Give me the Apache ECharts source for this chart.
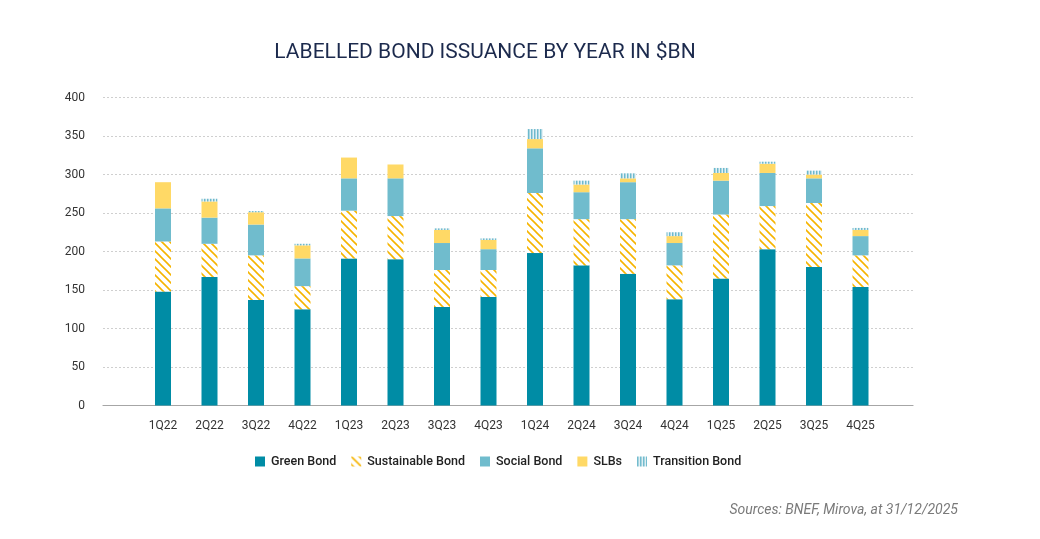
<!DOCTYPE html>
<html><head><meta charset="utf-8">
<script src="https://cdn.jsdelivr.net/npm/echarts@6/dist/echarts.min.js"></script>
<style>html,body{margin:0;padding:0;background:#fff}#c{width:1040px;height:539px}</style>
</head><body><div id="c"></div>
<script>
const categories = ['1Q22','2Q22','3Q22','4Q22','1Q23','2Q23','3Q23','4Q23','1Q24','2Q24','3Q24','4Q24','1Q25','2Q25','3Q25','4Q25'];
const greenBond       = [148,167,137,125,191,190,128,141,198,182,171,138,165,203,180,154];
const sustainableBond = [65,43,58,30,62,56,48,35,78,60,71,44,83,56,83,41];
const socialBond      = [43,34,40,36,42,49,35,27,58,35,48,29,44,43,32,25];
const slbs            = [34,21,16,17,27,18,17,12,12,10,5,9,10,12,5,8];
const transitionBond  = [0,3.5,1.5,2,0,0,2,2,13,5,6.5,5,6.5,2.6,5,2.6];
const seriesNames = ['Green Bond','Sustainable Bond','Social Bond','SLBs','Transition Bond'];
const yMin = 0, yMax = 400, yStep = 50;

function diagPattern(){
  const c = document.createElement('canvas'); c.width = 8; c.height = 8;
  const g = c.getContext('2d');
  g.fillStyle = '#ffffff'; g.fillRect(0,0,8,8);
  g.strokeStyle = '#f6b400'; g.lineWidth = 1.6;
  g.beginPath();
  g.moveTo(-2,-2); g.lineTo(10,10);
  g.moveTo(-2,6); g.lineTo(2,10);
  g.moveTo(6,-2); g.lineTo(10,2);
  g.stroke();
  return {image: c, repeat: 'repeat'};
}
function vertPattern(){
  const c = document.createElement('canvas'); c.width = 3; c.height = 4;
  const g = c.getContext('2d');
  g.fillStyle = '#e3f1f5'; g.fillRect(0,0,3,4);
  g.fillStyle = '#6db9cc'; g.fillRect(0,0,1,4);
  g.fillStyle = '#aad6e2'; g.fillRect(1,0,1,4);
  return {image: c, repeat: 'repeat'};
}
const colors = ['#008ca5', diagPattern(), '#70bccd', '#ffd966', vertPattern()];
const dataSets = [greenBond, sustainableBond, socialBond, slbs, transitionBond];

const chart = echarts.init(document.getElementById('c'), null, {renderer: 'canvas'});
const gridTop = 97.5, gridBottom = 133.5;
chart.setOption({
  animation: false,
  backgroundColor: '#fff',
  textStyle: {fontFamily: 'Roboto'},
  title: [{
    text: 'LABELLED BOND ISSUANCE BY YEAR IN $BN',
    left: 480, top: 37, textAlign: 'center',
    textStyle: {fontFamily: 'Roboto', fontSize: 21, fontWeight: 'normal', color: '#1c2a4d'}
  }, {
    text: 'Sources: BNEF, Mirova, at 31/12/2025',
    right: 77, top: 498,
    textStyle: {fontFamily: 'Roboto', fontSize: 14, fontStyle: 'italic', fontWeight: 'normal', color: '#7a7a7a'}
  }],
  legend: {
    left: 250, top: 450,
    itemWidth: 10, itemHeight: 10, itemGap: 15,
    icon: 'rect',
    data: seriesNames,
    textStyle: {fontFamily: 'Roboto', fontSize: 12.5, color: '#222', fontWeight: 500, padding: [0,0,0,1]}
  },
  grid: [
    {left: 103, right: 127, top: gridTop, bottom: gridBottom},
    {left: 139.75, width: 744, top: gridTop, bottom: gridBottom}
  ],
  xAxis: [
    {type: 'category', gridIndex: 0, data: [''], axisLine: {show: true, lineStyle: {color: '#a6a6a6', width: 1.2}},
     axisTick: {show: false}, axisLabel: {show: false}},
    {type: 'category', gridIndex: 1, data: categories, axisLine: {show: false}, axisTick: {show: false},
     axisLabel: {fontFamily: 'Roboto', fontSize: 12, color: '#333', margin: 14}}
  ],
  yAxis: [
    {type: 'value', gridIndex: 0, min: yMin, max: yMax, interval: yStep,
     axisLine: {show: false}, axisTick: {show: false},
     axisLabel: {fontFamily: 'Roboto', fontSize: 12, color: '#333', margin: 18},
     splitLine: {show: true, lineStyle: {color: '#cfcfcf', type: [2,2], width: 1}}},
    {type: 'value', gridIndex: 1, min: yMin, max: yMax, interval: yStep, show: false, splitLine: {show: false}}
  ],
  series: seriesNames.map((n, i) => ({
    name: n, type: 'bar', stack: 'total', xAxisIndex: 1, yAxisIndex: 1,
    barWidth: 16, data: dataSets[i],
    itemStyle: {color: colors[i]}
  }))
});
</script>
</body></html>
